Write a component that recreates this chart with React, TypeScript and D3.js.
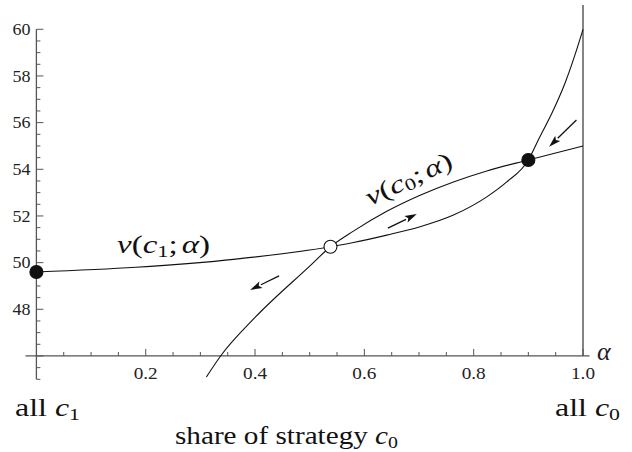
import React from "react";
import * as d3 from "d3";

// v(c1; α): payoff curve read along the share α of strategy c0
const v1Alpha = [0, 0.182, 0.365, 0.538, 0.58, 0.641, 0.702, 0.763, 0.824, 0.86, 0.9, 0.918, 0.943, 0.967, 0.988, 1.0];
const v1Value = [49.6, 49.8, 50.15, 50.68, 50.86, 51.18, 51.54, 52.04, 52.82, 53.45, 54.4, 55.25, 56.4, 57.69, 59.1, 60.0];

// v(c0; α)
const v0Alpha = [0.311, 0.337, 0.4, 0.5, 0.538, 0.58, 0.641, 0.702, 0.763, 0.824, 0.9, 1.0];
const v0Value = [45.1, 46.0, 47.65, 49.85, 50.68, 51.35, 52.2, 52.89, 53.46, 53.93, 54.4, 55.0];

// equilibria: stable (filled) and unstable (open)
const eqAlpha = [0, 0.538, 0.9];
const eqValue = [49.6, 50.68, 54.4];
const eqStable = [true, false, true];

// direction-of-motion arrows: tail -> head
const arrowTailAlpha = [0.444, 0.643, 0.988];
const arrowTailValue = [49.43, 51.48, 56.11];
const arrowHeadAlpha = [0.391, 0.696, 0.938];
const arrowHeadValue = [48.83, 52.08, 54.97];

const xTickLabels = [0.2, 0.4, 0.6, 0.8, 1.0];
const yTickLabels = [48, 50, 52, 54, 56, 58, 60];

const W = 632;
const H = 452;
const SERIF = "Liberation Serif";

export default function App() {
  const x = d3.scaleLinear().domain([0, 1]).range([36.4, 583]);
  const y = d3.scaleLinear().domain([45, 60]).range([379.3, 29.3]);
  const axisY = y(46);
  const axisColor = "#555";
  const txt = { fontFamily: SERIF };

  const line = d3
    .line<[number, number]>()
    .x((d) => x(d[0]))
    .y((d) => y(d[1]))
    .curve(d3.curveMonotoneX);

  const v1Path = line(v1Alpha.map((a, i) => [a, v1Value[i]]));
  const v0Path = line(v0Alpha.map((a, i) => [a, v0Value[i]]));

  const yMinor = d3.range(45, 60.001, 0.5);
  const xMinor = d3.range(0.05, 1.001, 0.05);

  const arrows = arrowTailAlpha.map((a, i) => {
    const x1 = x(a), y1 = y(arrowTailValue[i]);
    const x2 = x(arrowHeadAlpha[i]), y2 = y(arrowHeadValue[i]);
    const ang = Math.atan2(y2 - y1, x2 - x1);
    const len = 12, half = 3.6;
    const bx = x2 - len * Math.cos(ang), by = y2 - len * Math.sin(ang);
    const px = -Math.sin(ang) * half, py = Math.cos(ang) * half;
    const head = `M${x2},${y2}L${bx + px},${by + py}L${bx + 2.5 * Math.cos(ang)},${by + 2.5 * Math.sin(ang)}L${bx - px},${by - py}Z`;
    return { x1, y1, bx, by, head };
  });

  return (
    <svg
      width={W}
      height={H}
      style={{ position: "absolute", left: 0, top: 0, background: "#fff" }}
    >
      {/* vertical boundary at α = 1 */}
      <line x1={x(1)} x2={x(1)} y1={5} y2={axisY} stroke="#666" strokeWidth={1.6} />

      {/* y axis */}
      <line x1={x(0)} x2={x(0)} y1={y(45)} y2={y(60)} stroke={axisColor} strokeWidth={1.3} />
      {yMinor.map((v) => {
        const major = Math.abs(v - Math.round(v)) < 1e-6 && Math.round(v) % 2 === 0;
        return (
          <line key={"yt" + v} x1={x(0)} x2={x(0) + (major ? 7 : 4)} y1={y(v)} y2={y(v)} stroke={axisColor} strokeWidth={1} />
        );
      })}
      {yTickLabels.map((v) => (
        <text key={"yl" + v} x={x(0) - 6} y={y(v)} dy="0.36em" textAnchor="end" textLength={18} lengthAdjust="spacingAndGlyphs" style={{ ...txt, fontSize: 16 }} fill="#222">
          {v}
        </text>
      ))}

      {/* x axis */}
      <line x1={x(-0.02)} x2={x(1.012)} y1={axisY} y2={axisY} stroke={axisColor} strokeWidth={1.3} />
      {xMinor.map((a) => {
        const major = Math.abs(a * 5 - Math.round(a * 5)) < 1e-6;
        return (
          <line key={"xt" + a} x1={x(a)} x2={x(a)} y1={axisY} y2={axisY - (major ? 7 : 4)} stroke={axisColor} strokeWidth={1} />
        );
      })}
      {xTickLabels.map((a) => (
        <text key={"xl" + a} x={x(a)} y={axisY + 23} textAnchor="middle" textLength={24} lengthAdjust="spacingAndGlyphs" style={{ ...txt, fontSize: 16 }} fill="#222">
          {a.toFixed(1)}
        </text>
      ))}
      <text x={597} y={axisY + 4} style={{ ...txt, fontSize: 26, fontStyle: "italic" }} fill="#222">α</text>

      {/* payoff curves */}
      <path d={v1Path ?? ""} fill="none" stroke="#111" strokeWidth={1.1} />
      <path d={v0Path ?? ""} fill="none" stroke="#111" strokeWidth={1.1} />

      {/* arrows */}
      {arrows.map((ar, i) => (
        <g key={"ar" + i}>
          <line x1={ar.x1} y1={ar.y1} x2={ar.bx} y2={ar.by} stroke="#111" strokeWidth={1.3} />
          <path d={ar.head} fill="#111" />
        </g>
      ))}

      {/* equilibria */}
      {eqAlpha.map((a, i) => (
        <circle
          key={"eq" + i}
          cx={x(a)}
          cy={y(eqValue[i])}
          r={6.5}
          fill={eqStable[i] ? "#111" : "#fff"}
          stroke="#111"
          strokeWidth={1.1}
        />
      ))}

      {/* curve labels */}
      <text x={117} y={253} textLength={93} lengthAdjust="spacingAndGlyphs" style={{ ...txt, fontSize: 25 }} fill="#111">
        <tspan fontStyle="italic">v</tspan>(<tspan fontStyle="italic">c</tspan>
        <tspan fontSize={17} dy={4}>1</tspan>
        <tspan dy={-4}>;</tspan>
        <tspan fontStyle="italic" dx={3}>α</tspan>)
      </text>
      <g transform="translate(370,206) rotate(-25)">
        <text x={0} y={0} textLength={93} lengthAdjust="spacingAndGlyphs" style={{ ...txt, fontSize: 25 }} fill="#111">
          <tspan fontStyle="italic">v</tspan>(<tspan fontStyle="italic">c</tspan>
          <tspan fontSize={17} dy={3}>0</tspan>
          <tspan dy={-3}>;</tspan>
          <tspan fontStyle="italic" dx={3}>α</tspan>)
        </text>
      </g>

      {/* end labels and axis title */}
      <text x={15} y={416} textLength={65} lengthAdjust="spacingAndGlyphs" style={{ ...txt, fontSize: 25 }} fill="#111">
        all <tspan fontStyle="italic">c</tspan>
        <tspan fontSize={17} dy={4}>1</tspan>
      </text>
      <text x={555} y={416} textLength={65} lengthAdjust="spacingAndGlyphs" style={{ ...txt, fontSize: 25 }} fill="#111">
        all <tspan fontStyle="italic">c</tspan>
        <tspan fontSize={17} dy={4}>0</tspan>
      </text>
      <text x={175} y={444} textLength={223} lengthAdjust="spacingAndGlyphs" style={{ ...txt, fontSize: 25 }} fill="#111">
        share of strategy <tspan fontStyle="italic">c</tspan>
        <tspan fontSize={17} dy={4}>0</tspan>
      </text>
    </svg>
  );
}
